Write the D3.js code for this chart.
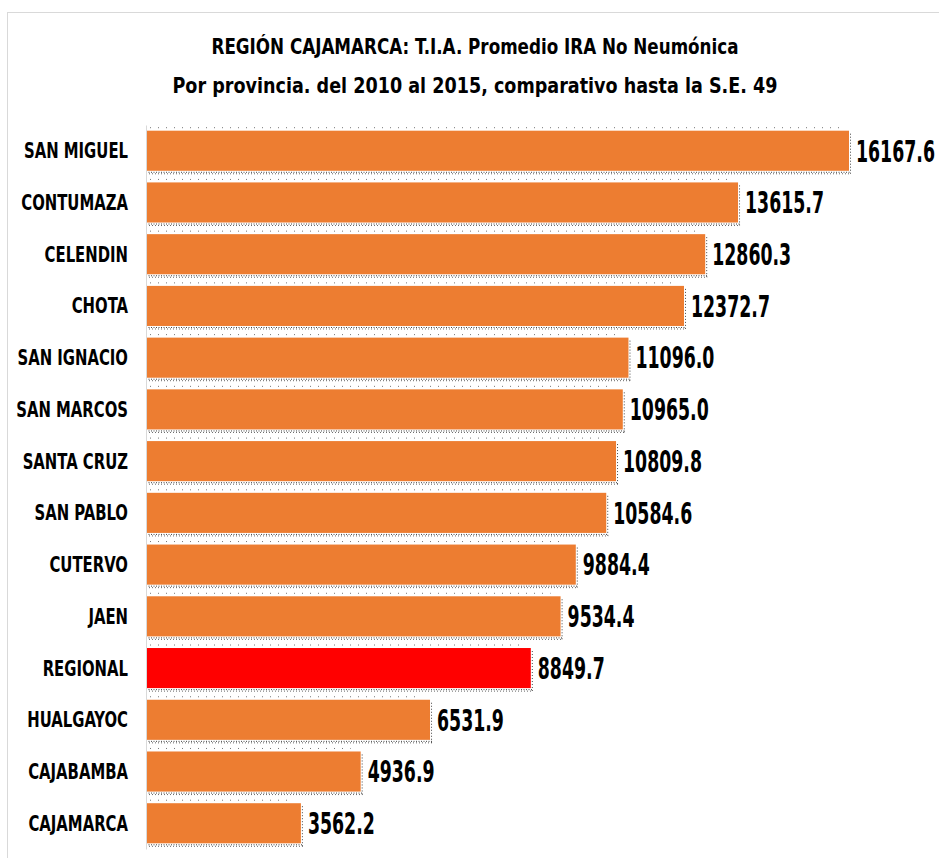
<!DOCTYPE html>
<html>
<head>
<meta charset="utf-8">
<script src="https://cdn.jsdelivr.net/npm/d3@7"></script>
<style>
  html, body { margin: 0; padding: 0; background: #fff; }
  svg { display: block; }
</style>
</head>
<body>
<svg id="chart" width="939" height="858"></svg>
<script>
const titleLines = [
  "REGIÓN CAJAMARCA: T.I.A. Promedio IRA No Neumónica",
  "Por provincia.  del 2010 al 2015, comparativo hasta la S.E. 49"
];
const categories = ["SAN MIGUEL","CONTUMAZA","CELENDIN","CHOTA","SAN IGNACIO","SAN MARCOS","SANTA CRUZ","SAN PABLO","CUTERVO","JAEN","REGIONAL","HUALGAYOC","CAJABAMBA","CAJAMARCA"];
const values = [16167.6,13615.7,12860.3,12372.7,11096.0,10965.0,10809.8,10584.6,9884.4,9534.4,8849.7,6531.9,4936.9,3562.2];
const highlight = "REGIONAL";

const FONT = "'Liberation Sans Narrow','DejaVu Sans Condensed','Liberation Sans',sans-serif";
const svg = d3.select("#chart");

// outer frame
svg.append("rect").attr("x", 7.5).attr("y", 12.5).attr("width", 960).attr("height", 900)
  .attr("fill", "#fff").attr("stroke", "#d9d9d9").attr("stroke-width", 1);

// title
const titleY = [47, 86];
const titleW = [527, 605];
titleLines.forEach((t, i) => {
  svg.append("text").attr("x", 475).attr("y", titleY[i] + 7)
    .attr("text-anchor", "middle")
    .attr("font-family", FONT).attr("font-weight", "bold").attr("font-size", 21)
    .attr("fill", "#000")
    .attr("textLength", titleW[i]).attr("lengthAdjust", "spacingAndGlyphs")
    .text(t);
});

const x0 = 146;
const x = d3.scaleLinear().domain([0, 16167.6]).range([x0, 849]);
const y = d3.scaleBand().domain(categories).range([125, 849]).paddingInner(0.225).paddingOuter(0.11);

const g = svg.append("g");

// dotted shadow artifacts
categories.forEach((c, i) => {
  const v = values[i];
  const top = y(c), bot = y(c) + y.bandwidth(), xe = x(v);
  g.append("line").attr("x1", x0).attr("x2", xe + 2).attr("y1", bot + 1.5).attr("y2", bot + 1.5)
    .attr("stroke", "#444").attr("stroke-width", 1).attr("stroke-dasharray", "1,1.5");
  g.append("line").attr("x1", x0).attr("x2", xe + 2).attr("y1", bot + 3).attr("y2", bot + 3)
    .attr("stroke", "#666").attr("stroke-width", 1).attr("stroke-dasharray", "1,2");
  g.append("line").attr("x1", xe + 1.5).attr("x2", xe + 1.5).attr("y1", top + 3).attr("y2", bot + 3)
    .attr("stroke", "#444").attr("stroke-width", 1).attr("stroke-dasharray", "1,2");
  g.append("line").attr("x1", x0 + 4).attr("x2", xe - 10).attr("y1", top - 3).attr("y2", top - 3)
    .attr("stroke", "#777").attr("stroke-width", 1).attr("stroke-dasharray", "1,7");
});

// bars
g.selectAll("rect.bar").data(categories).join("rect")
  .attr("class", "bar")
  .attr("x", x0)
  .attr("y", d => y(d))
  .attr("width", (d, i) => x(values[i]) - x0)
  .attr("height", y.bandwidth())
  .attr("fill", d => d === highlight ? "#FF0000" : "#ED7D31");

// axis
const axis = d3.axisLeft(y).tickSize(0).tickPadding(18);
const ax = svg.append("g").attr("transform", `translate(${x0},0)`).call(axis);
ax.select(".domain").attr("stroke", "#d9d9d9");
const catTexts = ax.selectAll("text").attr("font-family", FONT).attr("font-weight", "bold")
  .attr("font-size", 21).attr("fill", "#000").attr("dy", "0.36em");
const refCat = catTexts.filter(d => d === "SAN MIGUEL").node().getComputedTextLength();
const kCat = 104 / refCat;
catTexts.each(function() {
  const w = this.getComputedTextLength();
  d3.select(this).attr("textLength", w * kCat).attr("lengthAdjust", "spacingAndGlyphs");
});

// value labels (condensed horizontally with a scale transform)
const vals = g.selectAll("text.val").data(categories).join("text")
  .attr("class", "val")
  .attr("x", 0).attr("y", 0)
  .attr("dy", "0.36em")
  .attr("font-family", FONT).attr("font-weight", "bold").attr("font-size", 30)
  .attr("fill", "#000")
  .text((d, i) => values[i].toFixed(1));
const refVal = vals.filter((d, i) => i === 0).node().getComputedTextLength();
const kVal = 79 / refVal;
vals.attr("transform", (d, i) =>
  `translate(${x(values[i]) + 7},${y(d) + y.bandwidth() / 2}) scale(${kVal},1)`);
</script>
</body>
</html>
